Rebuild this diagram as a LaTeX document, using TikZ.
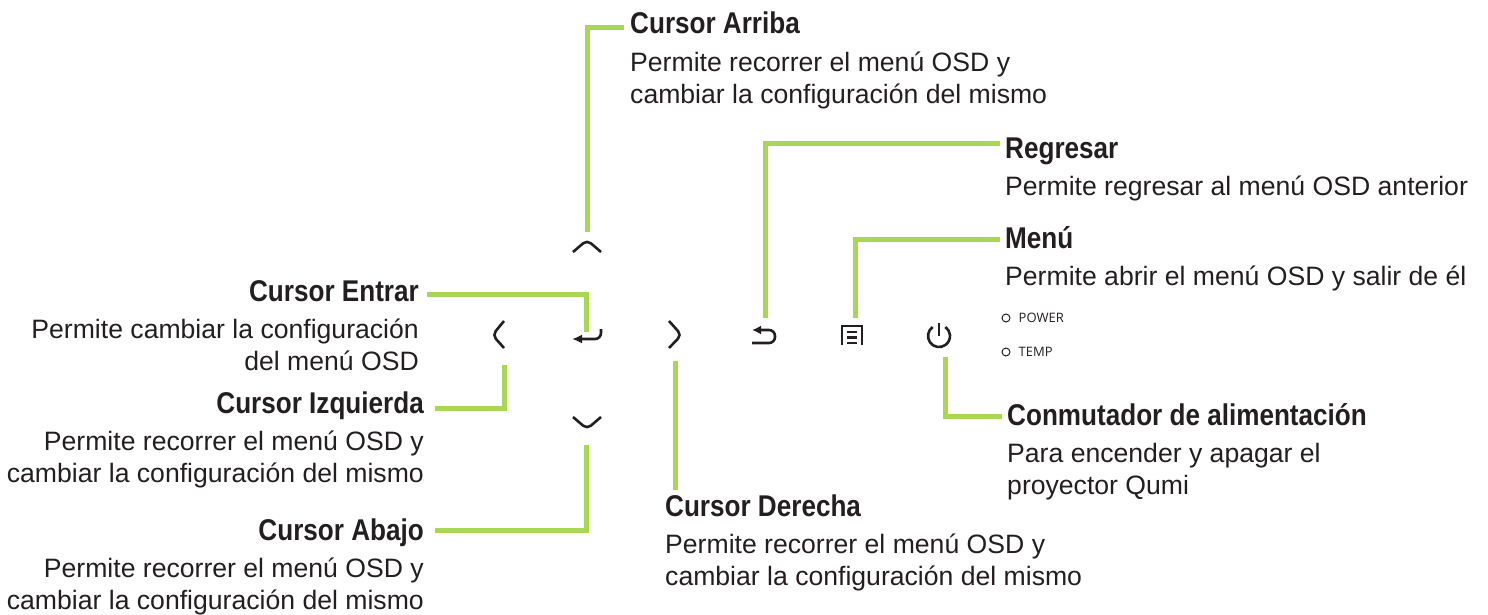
\documentclass[tikz,border=0pt]{standalone}
\usepackage{fontspec}
\setmainfont{Liberation Sans}
\newfontfamily\headfont[FakeStretch=0.87]{Liberation Sans Bold}
\newfontfamily\ledfont{Open Sans}
\usetikzlibrary{positioning}
\usetikzlibrary{arrows.meta}
\definecolor{leadgreen}{HTML}{A9D654}
\definecolor{inkdark}{HTML}{231F20}
\tikzset{
    heading/.style={inner sep=0pt, text=inkdark, text height=20pt, text depth=6pt, font=\headfont\fontsize{30}{32}\selectfont},
    bodytext/.style={inner sep=0pt, text=inkdark, font=\fontsize{26.6}{32}\selectfont},
    leader/.style={draw=leadgreen, line width=5pt},
    glyph/.style={draw=inkdark, line width=2.6pt, rounded corners=3pt},
    ledmark/.style={draw=inkdark, circle, inner sep=0pt, minimum size=8pt, line width=1pt},
    ledtext/.style={inner sep=0pt, text=inkdark, font=\ledfont\fontsize{13}{15}\selectfont}
}
\begin{document}
\begin{tikzpicture}[x=1pt,y=-1pt]
    \useasboundingbox (0,0) rectangle (1488,615);
    % headings on the right
    \node[heading, anchor=west] (arriba) at (630,27) {Cursor Arriba};
    \node[bodytext, align=left, below right = 12pt and 0pt of arriba.south west] (arribatxt) {Permite recorrer el menú OSD y\\cambiar la configuración del mismo};
    \node[heading, anchor=west] (regresar) at (1005,151) {Regresar};
    \node[bodytext, align=left, below right = 12pt and 0pt of regresar.south west] (regresartxt) {Permite regresar al menú OSD anterior};
    \node[heading, anchor=west] (menu) at (1005,241) {Menú};
    \node[bodytext, align=left, below right = 12pt and 0pt of menu.south west] (menutxt) {Permite abrir el menú OSD y salir de él};
    \node[heading, anchor=west] (conmutador) at (1007,418) {Conmutador de alimentación};
    \node[bodytext, align=left, below right = 12pt and 0pt of conmutador.south west] (conmutadortxt) {Para encender y apagar el\\proyector Qumi};
    \node[heading, anchor=west] (derecha) at (665,509) {Cursor Derecha};
    \node[bodytext, align=left, below right = 12pt and 0pt of derecha.south west] (derechatxt) {Permite recorrer el menú OSD y\\cambiar la configuración del mismo};
    % headings on the left
    \node[heading, anchor=east] (entrar) at (419,294) {Cursor Entrar};
    \node[bodytext, align=right, below left = 12pt and 0pt of entrar.south east] (entrartxt) {Permite cambiar la configuración\\del menú OSD};
    \node[heading, anchor=east] (izquierda) at (424,406) {Cursor Izquierda};
    \node[bodytext, align=right, below left = 12pt and 0pt of izquierda.south east] (izquierdatxt) {Permite recorrer el menú OSD y\\cambiar la configuración del mismo};
    \node[heading, anchor=east] (abajo) at (424,533) {Cursor Abajo};
    \node[bodytext, align=right, below left = 12pt and 0pt of abajo.south east] (abajotxt) {Permite recorrer el menú OSD y\\cambiar la configuración del mismo};
    % ends of the leaders
    \coordinate (keyup) at (587,232);
    \coordinate (keyenter) at (586,332);
    \coordinate (keyleft) at (504,365);
    \coordinate (keyright) at (675,361);
    \coordinate (keydown) at (586,445);
    \coordinate (keyback) at (765,318);
    \coordinate (keymenu) at (855,318);
    \coordinate (keypower) at (945.5,357);
    \path[leader] ([xshift=-6pt,yshift=-1pt]arriba.west) -| (keyup);
    \path[leader] ([xshift=-5pt,yshift=7pt]regresar.west) -| (keyback);
    \path[leader] ([xshift=-5pt,yshift=2pt]menu.west) -| (keymenu);
    \path[leader] ([xshift=-5pt,yshift=2pt]conmutador.west) -| (keypower);
    \path[leader] ([xshift=8pt]entrar.east) -| (keyenter);
    \path[leader] ([xshift=11pt,yshift=-2pt]izquierda.east) -| (keyleft);
    \path[leader] ([xshift=11pt,yshift=3pt]abajo.east) -| (keydown);
    \path[leader] (keyright) -- ([xshift=10pt,yshift=6pt]derecha.north west);
    % keys
    \draw[glyph, rounded corners=5pt] (573,252) -- (587,240) -- (601,252);
    \draw[glyph, rounded corners=5pt] (573,417) -- (587,429) -- (601,417);
    \draw[glyph, rounded corners=5pt] (504,321) -- (492.5,335) -- (504,348);
    \draw[glyph, rounded corners=5pt] (669,321) -- (681.5,335) -- (669,348);
    \draw[glyph, -{Latex[length=10pt,width=9pt]}, rounded corners=6pt] (601,329) -- (601,339) -- (572,339);
    \draw[glyph, -{Latex[length=9pt,width=9pt]}, rounded corners=6pt] (752,343) -- (775,343) -- (775,330) -- (752,330);
    \draw[glyph, rounded corners=0pt] (842,344.5) -- (842,326) -- (862,326) -- (862,344.5);
    \draw[glyph, rounded corners=0pt] (847,332) -- (857,332) (847,337.5) -- (857,337.5) (847,343) -- (857,343);
    \draw[glyph, rounded corners=0pt] (939,323) -- (939,336);
    \draw[glyph, rounded corners=0pt] (932.7,327) arc[start angle=125, end angle=415, radius=11pt];
    % lamps
    \node[ledmark] (lamppower) at (1006,318) {};
    \node[ledtext, right = 8pt of lamppower] (powertxt) {POWER};
    \node[ledmark] (lamptemp) at (1006,352) {};
    \node[ledtext, right = 8pt of lamptemp] (temptxt) {TEMP};
\end{tikzpicture}
\end{document}
